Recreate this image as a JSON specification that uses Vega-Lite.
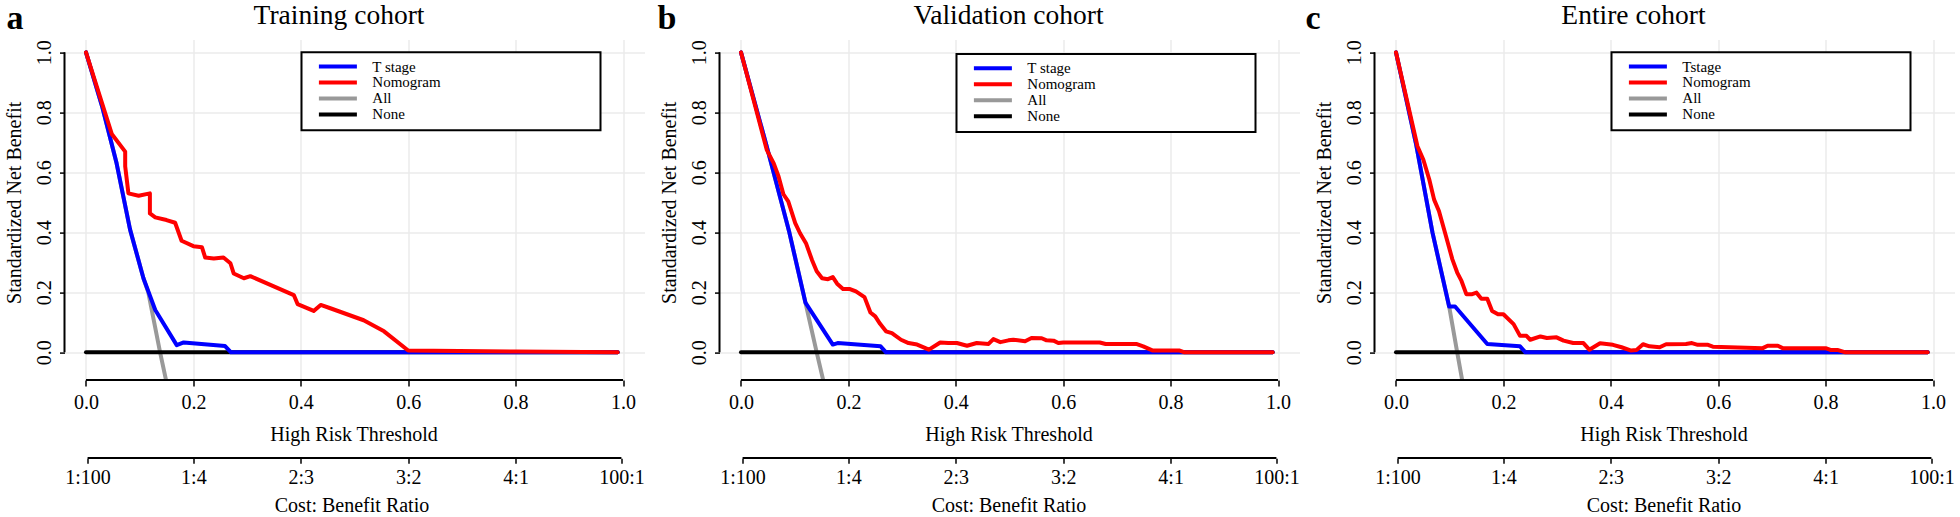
{
"$schema": "https://vega.github.io/schema/vega-lite/v6.json",
"autosize": {"type": "none"},
"padding": {"left": 64.5, "top": 39.6, "right": 1895.5, "bottom": 477.4},
"background": "white",
"bounds": "flush",
"spacing": 75,
"config": {
  "view": {"stroke": null},
  "font": "Liberation Serif",
  "axis": {"labelFont": "Liberation Serif", "labelFontSize": 20, "labelColor": "black", "titleFont": "Liberation Serif", "titleFontSize": 20, "titleFontWeight": "normal", "titleColor": "black", "tickColor": "black", "tickWidth": 1.5, "domain": false, "labelFlush": false, "labelOverlap": false, "gridColor": "#ebebeb", "gridWidth": 1.5},
  "legend": {"strokeWidth": 2}
},
"datasets": {
  "panels": [
    {"p": "a", "letter": "a", "title": "Training cohort"},
    {"p": "b", "letter": "b", "title": "Validation cohort"},
    {"p": "c", "letter": "c", "title": "Entire cohort"}
  ],
  "curves": [
    {"p":"a","m":"All","t":0,"nb":1},{"p":"a","m":"All","t":0.03,"nb":0.82},{"p":"a","m":"All","t":0.057,"nb":0.63},{"p":"a","m":"All","t":0.082,"nb":0.41},{"p":"a","m":"All","t":0.107,"nb":0.247},{"p":"a","m":"All","t":0.116,"nb":0.2},{"p":"a","m":"All","t":0.138,"nb":0},{"p":"a","m":"All","t":0.149,"nb":-0.092},
    {"p":"a","m":"None","t":0,"nb":0},{"p":"a","m":"None","t":0.99,"nb":0},
    {"p":"a","m":"T stage","t":0,"nb":1},{"p":"a","m":"T stage","t":0.03,"nb":0.82},{"p":"a","m":"T stage","t":0.057,"nb":0.63},{"p":"a","m":"T stage","t":0.082,"nb":0.41},{"p":"a","m":"T stage","t":0.107,"nb":0.247},{"p":"a","m":"T stage","t":0.129,"nb":0.141},{"p":"a","m":"T stage","t":0.169,"nb":0.024},{"p":"a","m":"T stage","t":0.182,"nb":0.033},{"p":"a","m":"T stage","t":0.259,"nb":0.021},{"p":"a","m":"T stage","t":0.27,"nb":0},{"p":"a","m":"T stage","t":0.99,"nb":0},
    {"p":"a","m":"Nomogram","t":0,"nb":1},{"p":"a","m":"Nomogram","t":0.048,"nb":0.728},{"p":"a","m":"Nomogram","t":0.073,"nb":0.669},{"p":"a","m":"Nomogram","t":0.073,"nb":0.62},{"p":"a","m":"Nomogram","t":0.079,"nb":0.53},{"p":"a","m":"Nomogram","t":0.098,"nb":0.522},{"p":"a","m":"Nomogram","t":0.119,"nb":0.53},{"p":"a","m":"Nomogram","t":0.119,"nb":0.463},{"p":"a","m":"Nomogram","t":0.129,"nb":0.45},{"p":"a","m":"Nomogram","t":0.15,"nb":0.441},{"p":"a","m":"Nomogram","t":0.166,"nb":0.432},{"p":"a","m":"Nomogram","t":0.178,"nb":0.372},{"p":"a","m":"Nomogram","t":0.2,"nb":0.354},{"p":"a","m":"Nomogram","t":0.216,"nb":0.35},{"p":"a","m":"Nomogram","t":0.222,"nb":0.316},{"p":"a","m":"Nomogram","t":0.238,"nb":0.313},{"p":"a","m":"Nomogram","t":0.256,"nb":0.316},{"p":"a","m":"Nomogram","t":0.269,"nb":0.297},{"p":"a","m":"Nomogram","t":0.275,"nb":0.263},{"p":"a","m":"Nomogram","t":0.294,"nb":0.247},{"p":"a","m":"Nomogram","t":0.306,"nb":0.254},{"p":"a","m":"Nomogram","t":0.387,"nb":0.191},{"p":"a","m":"Nomogram","t":0.394,"nb":0.161},{"p":"a","m":"Nomogram","t":0.424,"nb":0.138},{"p":"a","m":"Nomogram","t":0.437,"nb":0.158},{"p":"a","m":"Nomogram","t":0.455,"nb":0.147},{"p":"a","m":"Nomogram","t":0.517,"nb":0.107},{"p":"a","m":"Nomogram","t":0.555,"nb":0.07},{"p":"a","m":"Nomogram","t":0.6,"nb":0.006},{"p":"a","m":"Nomogram","t":0.8,"nb":0.003},{"p":"a","m":"Nomogram","t":0.99,"nb":0},
    {"p":"b","m":"All","t":0,"nb":1},{"p":"b","m":"All","t":0.048,"nb":0.686},{"p":"b","m":"All","t":0.09,"nb":0.4},{"p":"b","m":"All","t":0.12,"nb":0.166},{"p":"b","m":"All","t":0.141,"nb":0},{"p":"b","m":"All","t":0.153,"nb":-0.092},
    {"p":"b","m":"None","t":0,"nb":0},{"p":"b","m":"None","t":0.99,"nb":0},
    {"p":"b","m":"T stage","t":0,"nb":1},{"p":"b","m":"T stage","t":0.048,"nb":0.686},{"p":"b","m":"T stage","t":0.09,"nb":0.4},{"p":"b","m":"T stage","t":0.12,"nb":0.166},{"p":"b","m":"T stage","t":0.171,"nb":0.026},{"p":"b","m":"T stage","t":0.18,"nb":0.031},{"p":"b","m":"T stage","t":0.26,"nb":0.02},{"p":"b","m":"T stage","t":0.27,"nb":0},{"p":"b","m":"T stage","t":0.99,"nb":0},
    {"p":"b","m":"Nomogram","t":0,"nb":1},{"p":"b","m":"Nomogram","t":0.048,"nb":0.675},{"p":"b","m":"Nomogram","t":0.061,"nb":0.63},{"p":"b","m":"Nomogram","t":0.07,"nb":0.586},{"p":"b","m":"Nomogram","t":0.079,"nb":0.527},{"p":"b","m":"Nomogram","t":0.088,"nb":0.503},{"p":"b","m":"Nomogram","t":0.101,"nb":0.431},{"p":"b","m":"Nomogram","t":0.11,"nb":0.397},{"p":"b","m":"Nomogram","t":0.121,"nb":0.364},{"p":"b","m":"Nomogram","t":0.132,"nb":0.309},{"p":"b","m":"Nomogram","t":0.141,"nb":0.27},{"p":"b","m":"Nomogram","t":0.151,"nb":0.247},{"p":"b","m":"Nomogram","t":0.162,"nb":0.244},{"p":"b","m":"Nomogram","t":0.171,"nb":0.251},{"p":"b","m":"Nomogram","t":0.179,"nb":0.229},{"p":"b","m":"Nomogram","t":0.19,"nb":0.211},{"p":"b","m":"Nomogram","t":0.203,"nb":0.211},{"p":"b","m":"Nomogram","t":0.214,"nb":0.203},{"p":"b","m":"Nomogram","t":0.23,"nb":0.184},{"p":"b","m":"Nomogram","t":0.241,"nb":0.133},{"p":"b","m":"Nomogram","t":0.25,"nb":0.12},{"p":"b","m":"Nomogram","t":0.259,"nb":0.095},{"p":"b","m":"Nomogram","t":0.27,"nb":0.07},{"p":"b","m":"Nomogram","t":0.281,"nb":0.064},{"p":"b","m":"Nomogram","t":0.298,"nb":0.042},{"p":"b","m":"Nomogram","t":0.312,"nb":0.031},{"p":"b","m":"Nomogram","t":0.328,"nb":0.026},{"p":"b","m":"Nomogram","t":0.35,"nb":0.009},{"p":"b","m":"Nomogram","t":0.371,"nb":0.033},{"p":"b","m":"Nomogram","t":0.386,"nb":0.031},{"p":"b","m":"Nomogram","t":0.402,"nb":0.031},{"p":"b","m":"Nomogram","t":0.421,"nb":0.022},{"p":"b","m":"Nomogram","t":0.439,"nb":0.031},{"p":"b","m":"Nomogram","t":0.461,"nb":0.028},{"p":"b","m":"Nomogram","t":0.47,"nb":0.044},{"p":"b","m":"Nomogram","t":0.483,"nb":0.034},{"p":"b","m":"Nomogram","t":0.498,"nb":0.04},{"p":"b","m":"Nomogram","t":0.507,"nb":0.042},{"p":"b","m":"Nomogram","t":0.529,"nb":0.037},{"p":"b","m":"Nomogram","t":0.541,"nb":0.048},{"p":"b","m":"Nomogram","t":0.56,"nb":0.047},{"p":"b","m":"Nomogram","t":0.569,"nb":0.04},{"p":"b","m":"Nomogram","t":0.582,"nb":0.039},{"p":"b","m":"Nomogram","t":0.591,"nb":0.031},{"p":"b","m":"Nomogram","t":0.6,"nb":0.033},{"p":"b","m":"Nomogram","t":0.668,"nb":0.033},{"p":"b","m":"Nomogram","t":0.679,"nb":0.028},{"p":"b","m":"Nomogram","t":0.736,"nb":0.028},{"p":"b","m":"Nomogram","t":0.749,"nb":0.02},{"p":"b","m":"Nomogram","t":0.767,"nb":0.006},{"p":"b","m":"Nomogram","t":0.817,"nb":0.006},{"p":"b","m":"Nomogram","t":0.826,"nb":0},{"p":"b","m":"Nomogram","t":0.99,"nb":0},
    {"p":"c","m":"All","t":0,"nb":1},{"p":"c","m":"All","t":0.037,"nb":0.698},{"p":"c","m":"All","t":0.068,"nb":0.399},{"p":"c","m":"All","t":0.099,"nb":0.153},{"p":"c","m":"All","t":0.114,"nb":0},{"p":"c","m":"All","t":0.123,"nb":-0.09},
    {"p":"c","m":"None","t":0,"nb":0},{"p":"c","m":"None","t":0.99,"nb":0},
    {"p":"c","m":"Tstage","t":0,"nb":1},{"p":"c","m":"Tstage","t":0.037,"nb":0.698},{"p":"c","m":"Tstage","t":0.068,"nb":0.399},{"p":"c","m":"Tstage","t":0.099,"nb":0.153},{"p":"c","m":"Tstage","t":0.11,"nb":0.153},{"p":"c","m":"Tstage","t":0.17,"nb":0.028},{"p":"c","m":"Tstage","t":0.231,"nb":0.02},{"p":"c","m":"Tstage","t":0.241,"nb":0},{"p":"c","m":"Tstage","t":0.99,"nb":0},
    {"p":"c","m":"Nomogram","t":0,"nb":1},{"p":"c","m":"Nomogram","t":0.04,"nb":0.687},{"p":"c","m":"Nomogram","t":0.051,"nb":0.642},{"p":"c","m":"Nomogram","t":0.062,"nb":0.576},{"p":"c","m":"Nomogram","t":0.071,"nb":0.509},{"p":"c","m":"Nomogram","t":0.08,"nb":0.471},{"p":"c","m":"Nomogram","t":0.093,"nb":0.388},{"p":"c","m":"Nomogram","t":0.105,"nb":0.31},{"p":"c","m":"Nomogram","t":0.114,"nb":0.266},{"p":"c","m":"Nomogram","t":0.122,"nb":0.238},{"p":"c","m":"Nomogram","t":0.131,"nb":0.194},{"p":"c","m":"Nomogram","t":0.142,"nb":0.194},{"p":"c","m":"Nomogram","t":0.15,"nb":0.199},{"p":"c","m":"Nomogram","t":0.159,"nb":0.179},{"p":"c","m":"Nomogram","t":0.17,"nb":0.179},{"p":"c","m":"Nomogram","t":0.179,"nb":0.138},{"p":"c","m":"Nomogram","t":0.19,"nb":0.127},{"p":"c","m":"Nomogram","t":0.2,"nb":0.127},{"p":"c","m":"Nomogram","t":0.219,"nb":0.094},{"p":"c","m":"Nomogram","t":0.231,"nb":0.055},{"p":"c","m":"Nomogram","t":0.243,"nb":0.055},{"p":"c","m":"Nomogram","t":0.25,"nb":0.042},{"p":"c","m":"Nomogram","t":0.269,"nb":0.053},{"p":"c","m":"Nomogram","t":0.281,"nb":0.048},{"p":"c","m":"Nomogram","t":0.299,"nb":0.05},{"p":"c","m":"Nomogram","t":0.312,"nb":0.039},{"p":"c","m":"Nomogram","t":0.33,"nb":0.031},{"p":"c","m":"Nomogram","t":0.349,"nb":0.031},{"p":"c","m":"Nomogram","t":0.36,"nb":0.009},{"p":"c","m":"Nomogram","t":0.38,"nb":0.03},{"p":"c","m":"Nomogram","t":0.404,"nb":0.025},{"p":"c","m":"Nomogram","t":0.42,"nb":0.017},{"p":"c","m":"Nomogram","t":0.438,"nb":0.006},{"p":"c","m":"Nomogram","t":0.448,"nb":0.008},{"p":"c","m":"Nomogram","t":0.46,"nb":0.027},{"p":"c","m":"Nomogram","t":0.472,"nb":0.02},{"p":"c","m":"Nomogram","t":0.491,"nb":0.017},{"p":"c","m":"Nomogram","t":0.503,"nb":0.027},{"p":"c","m":"Nomogram","t":0.54,"nb":0.028},{"p":"c","m":"Nomogram","t":0.551,"nb":0.031},{"p":"c","m":"Nomogram","t":0.562,"nb":0.025},{"p":"c","m":"Nomogram","t":0.581,"nb":0.025},{"p":"c","m":"Nomogram","t":0.59,"nb":0.019},{"p":"c","m":"Nomogram","t":0.683,"nb":0.014},{"p":"c","m":"Nomogram","t":0.692,"nb":0.022},{"p":"c","m":"Nomogram","t":0.711,"nb":0.022},{"p":"c","m":"Nomogram","t":0.72,"nb":0.014},{"p":"c","m":"Nomogram","t":0.8,"nb":0.014},{"p":"c","m":"Nomogram","t":0.809,"nb":0.008},{"p":"c","m":"Nomogram","t":0.822,"nb":0.008},{"p":"c","m":"Nomogram","t":0.837,"nb":0},{"p":"c","m":"Nomogram","t":0.99,"nb":0}
  ]
},
"resolve": {"scale": {"color": "independent", "strokeWidth": "independent"}, "legend": {"color": "independent", "strokeWidth": "independent"}},
"hconcat": [
  {
    "width": 580, "height": 340.5,
    "resolve": {"axis": {"x": "independent", "y": "independent"}},
    "layer": [
      {
        "data": {"name": "curves"},
        "transform": [{"filter": "datum.p == 'a'"}],
        "mark": {"type": "line", "clip": true, "strokeCap": "round", "strokeJoin": "round"},
        "encoding": {
          "x": {"field": "t", "type": "quantitative", "scale": {"domain": [-0.04, 1.04], "nice": false, "zero": false},
                "axis": {"orient": "bottom", "values": [0, 0.2, 0.4, 0.6, 0.8, 1], "format": ".1f", "grid": true, "tickSize": 6, "labelPadding": 22, "labelBaseline": "alphabetic", "title": "High Risk Threshold", "titleBaseline": "alphabetic", "titleAlign": "center", "titleX": 289, "titleY": 60}},
          "y": {"field": "nb", "type": "quantitative", "scale": {"domain": [-0.0925, 1.0425], "nice": false, "zero": false},
                "axis": {"values": [0, 0.2, 0.4, 0.6, 0.8, 1], "format": ".1f", "grid": true, "tickSize": 5, "labelAngle": 270, "labelAlign": "center", "labelBaseline": "alphabetic", "labelPadding": 9.5, "title": "Standardized Net Benefit", "titleAngle": 270, "titleAlign": "center", "titleBaseline": "alphabetic", "titleX": -44.5, "titleY": 162.7}},
          "color": {"field": "m", "type": "nominal", "scale": {"domain": ["T stage", "Nomogram", "All", "None"], "range": ["#0000ff", "#ff0000", "#999999", "#000000"]},
                    "legend": {"orient": "none", "legendX": 237, "legendY": 12.7, "title": "\u00a0", "titleOrient": "right", "titlePadding": 151.6, "padding": 7.6, "clipHeight": 13.2, "symbolType": "M-2.5,0H2.5", "symbolSize": 231, "symbolOffset": 18.8, "labelOffset": 24.4, "labelFont": "Liberation Serif", "labelFontSize": 15, "labelColor": "black", "strokeColor": "black", "fillColor": "white", "rowPadding": 0}},
          "strokeWidth": {"field": "m", "type": "nominal", "scale": {"domain": ["T stage", "Nomogram", "All", "None"], "range": [4, 4, 1.3, 2]},
                    "legend": {"orient": "none", "legendX": 237, "legendY": 12.7, "title": "\u00a0", "titleOrient": "right", "titlePadding": 151.6, "padding": 7.6, "clipHeight": 13.2, "symbolType": "M-2.5,0H2.5", "symbolSize": 231, "symbolOffset": 18.8, "labelOffset": 24.4, "labelFont": "Liberation Serif", "labelFontSize": 15, "labelColor": "black", "strokeColor": "black", "fillColor": "white", "rowPadding": 0}},
          "order": {"value": null}
        }
      },
      {
        "data": {"values": [{}]},
        "mark": {"type": "rule", "color": "black", "strokeWidth": 2},
        "encoding": {"x": {"datum": 0, "axis": null}, "x2": {"datum": 1}, "y": {"datum": -0.0925, "axis": null}}
      },
      {
        "data": {"values": [{}]},
        "mark": {"type": "rule", "color": "black", "strokeWidth": 2},
        "encoding": {"x": {"datum": -0.04, "axis": null}, "y": {"datum": 0, "axis": null}, "y2": {"datum": 1}}
      },
      {
        "data": {"values": [{}]},
        "mark": {"type": "rule", "color": "black", "strokeWidth": 2},
        "encoding": {
          "x": {"datum": 0.003, "axis": {"orient": "bottom", "offset": 78.2, "values": [0.003, 0.2, 0.4, 0.6, 0.8, 0.997], "labelExpr": "datum.value < 0.1 ? '1:100' : datum.value < 0.3 ? '1:4' : datum.value < 0.5 ? '2:3' : datum.value < 0.7 ? '3:2' : datum.value < 0.9 ? '4:1' : '100:1'", "grid": false, "tickSize": 5, "labelPadding": 20, "labelBaseline": "alphabetic", "title": "Cost: Benefit Ratio", "titleBaseline": "alphabetic", "titleAlign": "center", "titleX": 287, "titleY": 53.4}},
          "x2": {"datum": 0.997},
          "y": {"datum": -0.3525, "axis": null}
        }
      },
      {
        "data": {"name": "panels"},
        "transform": [{"filter": "datum.p == 'a'"}],
        "mark": {"type": "text", "font": "Liberation Serif", "fontSize": 34, "fontWeight": "bold", "align": "left", "baseline": "alphabetic", "color": "black"},
        "encoding": {"text": {"field": "letter"}, "x": {"datum": -0.148, "axis": null}, "y": {"datum": 1.0778, "axis": null}}
      },
      {
        "data": {"name": "panels"},
        "transform": [{"filter": "datum.p == 'a'"}],
        "mark": {"type": "text", "font": "Liberation Serif", "fontSize": 27.5, "align": "center", "baseline": "alphabetic", "color": "black", "dx": -15.5},
        "encoding": {"text": {"field": "title"}, "x": {"datum": 0.5, "axis": null}, "y": {"datum": 1.0945, "axis": null}}
      }
    ]
  },
  {
    "width": 580, "height": 340.5,
    "resolve": {"axis": {"x": "independent", "y": "independent"}},
    "layer": [
      {
        "data": {"name": "curves"},
        "transform": [{"filter": "datum.p == 'b'"}],
        "mark": {"type": "line", "clip": true, "strokeCap": "round", "strokeJoin": "round"},
        "encoding": {
          "x": {"field": "t", "type": "quantitative", "scale": {"domain": [-0.04, 1.04], "nice": false, "zero": false},
                "axis": {"orient": "bottom", "values": [0, 0.2, 0.4, 0.6, 0.8, 1], "format": ".1f", "grid": true, "tickSize": 6, "labelPadding": 22, "labelBaseline": "alphabetic", "title": "High Risk Threshold", "titleBaseline": "alphabetic", "titleAlign": "center", "titleX": 289, "titleY": 60}},
          "y": {"field": "nb", "type": "quantitative", "scale": {"domain": [-0.0925, 1.0425], "nice": false, "zero": false},
                "axis": {"values": [0, 0.2, 0.4, 0.6, 0.8, 1], "format": ".1f", "grid": true, "tickSize": 5, "labelAngle": 270, "labelAlign": "center", "labelBaseline": "alphabetic", "labelPadding": 9.5, "title": "Standardized Net Benefit", "titleAngle": 270, "titleAlign": "center", "titleBaseline": "alphabetic", "titleX": -44.5, "titleY": 162.7}},
          "color": {"field": "m", "type": "nominal", "scale": {"domain": ["T stage", "Nomogram", "All", "None"], "range": ["#0000ff", "#ff0000", "#999999", "#000000"]},
                    "legend": {"orient": "none", "legendX": 237, "legendY": 14.4, "title": "\u00a0", "titleOrient": "right", "titlePadding": 151.6, "padding": 7.6, "clipHeight": 13.2, "symbolType": "M-2.5,0H2.5", "symbolSize": 231, "symbolOffset": 18.8, "labelOffset": 24.4, "labelFont": "Liberation Serif", "labelFontSize": 15, "labelColor": "black", "strokeColor": "black", "fillColor": "white", "rowPadding": 0}},
          "strokeWidth": {"field": "m", "type": "nominal", "scale": {"domain": ["T stage", "Nomogram", "All", "None"], "range": [4, 4, 1.3, 2]},
                    "legend": {"orient": "none", "legendX": 237, "legendY": 14.4, "title": "\u00a0", "titleOrient": "right", "titlePadding": 151.6, "padding": 7.6, "clipHeight": 13.2, "symbolType": "M-2.5,0H2.5", "symbolSize": 231, "symbolOffset": 18.8, "labelOffset": 24.4, "labelFont": "Liberation Serif", "labelFontSize": 15, "labelColor": "black", "strokeColor": "black", "fillColor": "white", "rowPadding": 0}},
          "order": {"value": null}
        }
      },
      {
        "data": {"values": [{}]},
        "mark": {"type": "rule", "color": "black", "strokeWidth": 2},
        "encoding": {"x": {"datum": 0, "axis": null}, "x2": {"datum": 1}, "y": {"datum": -0.0925, "axis": null}}
      },
      {
        "data": {"values": [{}]},
        "mark": {"type": "rule", "color": "black", "strokeWidth": 2},
        "encoding": {"x": {"datum": -0.04, "axis": null}, "y": {"datum": 0, "axis": null}, "y2": {"datum": 1}}
      },
      {
        "data": {"values": [{}]},
        "mark": {"type": "rule", "color": "black", "strokeWidth": 2},
        "encoding": {
          "x": {"datum": 0.003, "axis": {"orient": "bottom", "offset": 78.2, "values": [0.003, 0.2, 0.4, 0.6, 0.8, 0.997], "labelExpr": "datum.value < 0.1 ? '1:100' : datum.value < 0.3 ? '1:4' : datum.value < 0.5 ? '2:3' : datum.value < 0.7 ? '3:2' : datum.value < 0.9 ? '4:1' : '100:1'", "grid": false, "tickSize": 5, "labelPadding": 20, "labelBaseline": "alphabetic", "title": "Cost: Benefit Ratio", "titleBaseline": "alphabetic", "titleAlign": "center", "titleX": 289, "titleY": 53.4}},
          "x2": {"datum": 0.997},
          "y": {"datum": -0.3525, "axis": null}
        }
      },
      {
        "data": {"name": "panels"},
        "transform": [{"filter": "datum.p == 'b'"}],
        "mark": {"type": "text", "font": "Liberation Serif", "fontSize": 34, "fontWeight": "bold", "align": "left", "baseline": "alphabetic", "color": "black", "dx": -4},
        "encoding": {"text": {"field": "letter"}, "x": {"datum": -0.148, "axis": null}, "y": {"datum": 1.0778, "axis": null}}
      },
      {
        "data": {"name": "panels"},
        "transform": [{"filter": "datum.p == 'b'"}],
        "mark": {"type": "text", "font": "Liberation Serif", "fontSize": 27.5, "align": "center", "baseline": "alphabetic", "color": "black", "dx": -1},
        "encoding": {"text": {"field": "title"}, "x": {"datum": 0.5, "axis": null}, "y": {"datum": 1.0945, "axis": null}}
      }
    ]
  },
  {
    "width": 580, "height": 340.5,
    "resolve": {"axis": {"x": "independent", "y": "independent"}},
    "layer": [
      {
        "data": {"name": "curves"},
        "transform": [{"filter": "datum.p == 'c'"}],
        "mark": {"type": "line", "clip": true, "strokeCap": "round", "strokeJoin": "round"},
        "encoding": {
          "x": {"field": "t", "type": "quantitative", "scale": {"domain": [-0.04, 1.04], "nice": false, "zero": false},
                "axis": {"orient": "bottom", "values": [0, 0.2, 0.4, 0.6, 0.8, 1], "format": ".1f", "grid": true, "tickSize": 6, "labelPadding": 22, "labelBaseline": "alphabetic", "title": "High Risk Threshold", "titleBaseline": "alphabetic", "titleAlign": "center", "titleX": 289, "titleY": 60}},
          "y": {"field": "nb", "type": "quantitative", "scale": {"domain": [-0.0925, 1.0425], "nice": false, "zero": false},
                "axis": {"values": [0, 0.2, 0.4, 0.6, 0.8, 1], "format": ".1f", "grid": true, "tickSize": 5, "labelAngle": 270, "labelAlign": "center", "labelBaseline": "alphabetic", "labelPadding": 9.5, "title": "Standardized Net Benefit", "titleAngle": 270, "titleAlign": "center", "titleBaseline": "alphabetic", "titleX": -44.5, "titleY": 162.7}},
          "color": {"field": "m", "type": "nominal", "scale": {"domain": ["Tstage", "Nomogram", "All", "None"], "range": ["#0000ff", "#ff0000", "#999999", "#000000"]},
                    "legend": {"orient": "none", "legendX": 237, "legendY": 12.7, "title": "\u00a0", "titleOrient": "right", "titlePadding": 151.6, "padding": 7.6, "clipHeight": 13.2, "symbolType": "M-2.5,0H2.5", "symbolSize": 231, "symbolOffset": 18.8, "labelOffset": 24.4, "labelFont": "Liberation Serif", "labelFontSize": 15, "labelColor": "black", "strokeColor": "black", "fillColor": "white", "rowPadding": 0}},
          "strokeWidth": {"field": "m", "type": "nominal", "scale": {"domain": ["Tstage", "Nomogram", "All", "None"], "range": [4, 4, 1.3, 2]},
                    "legend": {"orient": "none", "legendX": 237, "legendY": 12.7, "title": "\u00a0", "titleOrient": "right", "titlePadding": 151.6, "padding": 7.6, "clipHeight": 13.2, "symbolType": "M-2.5,0H2.5", "symbolSize": 231, "symbolOffset": 18.8, "labelOffset": 24.4, "labelFont": "Liberation Serif", "labelFontSize": 15, "labelColor": "black", "strokeColor": "black", "fillColor": "white", "rowPadding": 0}},
          "order": {"value": null}
        }
      },
      {
        "data": {"values": [{}]},
        "mark": {"type": "rule", "color": "black", "strokeWidth": 2},
        "encoding": {"x": {"datum": 0, "axis": null}, "x2": {"datum": 1}, "y": {"datum": -0.0925, "axis": null}}
      },
      {
        "data": {"values": [{}]},
        "mark": {"type": "rule", "color": "black", "strokeWidth": 2},
        "encoding": {"x": {"datum": -0.04, "axis": null}, "y": {"datum": 0, "axis": null}, "y2": {"datum": 1}}
      },
      {
        "data": {"values": [{}]},
        "mark": {"type": "rule", "color": "black", "strokeWidth": 2},
        "encoding": {
          "x": {"datum": 0.003, "axis": {"orient": "bottom", "offset": 78.2, "values": [0.003, 0.2, 0.4, 0.6, 0.8, 0.997], "labelExpr": "datum.value < 0.1 ? '1:100' : datum.value < 0.3 ? '1:4' : datum.value < 0.5 ? '2:3' : datum.value < 0.7 ? '3:2' : datum.value < 0.9 ? '4:1' : '100:1'", "grid": false, "tickSize": 5, "labelPadding": 20, "labelBaseline": "alphabetic", "title": "Cost: Benefit Ratio", "titleBaseline": "alphabetic", "titleAlign": "center", "titleX": 289, "titleY": 53.4}},
          "x2": {"datum": 0.997},
          "y": {"datum": -0.3525, "axis": null}
        }
      },
      {
        "data": {"name": "panels"},
        "transform": [{"filter": "datum.p == 'c'"}],
        "mark": {"type": "text", "font": "Liberation Serif", "fontSize": 34, "fontWeight": "bold", "align": "left", "baseline": "alphabetic", "color": "black", "dx": -11},
        "encoding": {"text": {"field": "letter"}, "x": {"datum": -0.148, "axis": null}, "y": {"datum": 1.0778, "axis": null}}
      },
      {
        "data": {"name": "panels"},
        "transform": [{"filter": "datum.p == 'c'"}],
        "mark": {"type": "text", "font": "Liberation Serif", "fontSize": 27.5, "align": "center", "baseline": "alphabetic", "color": "black", "dx": -31},
        "encoding": {"text": {"field": "title"}, "x": {"datum": 0.5, "axis": null}, "y": {"datum": 1.0945, "axis": null}}
      }
    ]
  }
]
}
